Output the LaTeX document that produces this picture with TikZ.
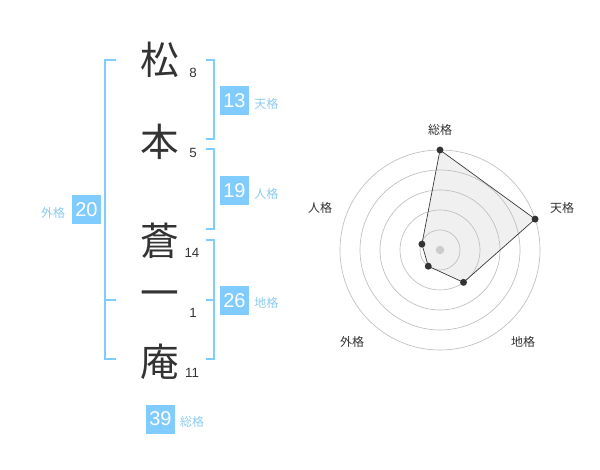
\documentclass[tikz,border=0pt]{standalone}
\usepackage{fontspec}
\setmainfont{Liberation Sans}
\newfontfamily\jpfont{Noto Sans CJK JP}
\definecolor{kakublue}{HTML}{80CCFF}
\definecolor{kakulabel}{HTML}{8CCBF2}
\definecolor{inkgray}{HTML}{333333}
\tikzset{
  kanji/.style={font=\jpfont\fontsize{29}{29}\selectfont, text=inkgray, inner sep=0pt},
  strokes/.style={font=\fontsize{10}{10}\selectfont, text=inkgray, inner sep=0pt},
  bracket/.style={draw=kakublue, line width=1.5pt},
  valbox/.style={fill=kakublue, text=white, font=\fontsize{15}{15}\selectfont,
    minimum size=21.75pt, inner sep=0pt},
  kakuname/.style={text=kakulabel, font=\jpfont\fontsize{9}{9}\selectfont, inner sep=0pt},
  ring/.style={draw=black!25, line width=0.5pt},
  axislabel/.style={text=inkgray, font=\jpfont\fontsize{9}{9}\selectfont, inner sep=0pt},
}
\begin{document}
\begin{tikzpicture}[x=0.75pt, y=-0.75pt]
  \useasboundingbox (0,0) rectangle (600,470);

  % Name characters
  \node[kanji] (k1) at (160,60) {松};
  \node[kanji] (k2) at (160,142) {本};
  \node[kanji] (k3) at (160,241) {蒼};
  \node[kanji] (k4) at (160,299) {一};
  \node[kanji] (k5) at (160,362) {庵};

  % Stroke counts
  \node[strokes] (s1) at (193,73) {8};
  \node[strokes] (s2) at (193,153) {5};
  \node[strokes] (s3) at (192,253) {14};
  \node[strokes] (s4) at (193,313) {1};
  \node[strokes] (s5) at (192,373) {11};

  % Brackets
  \draw[bracket] (116,60) -- (105,60) -- (105,359) -- (116,359);
  \draw[bracket] (105,300) -- (116,300);
  \draw[bracket] (206,60) -- (214,60) -- (214,139) -- (206,139);
  \draw[bracket] (206,149) -- (214,149) -- (214,229) -- (206,229);
  \draw[bracket] (206,240) -- (214,240) -- (214,359) -- (206,359);
  \draw[bracket] (206,300) -- (214,300);

  % Values
  \node[valbox] (ten) at (234.5,100.5) {13};
  \node[kakuname, anchor=west] (tenL) at (254,104) {天格};
  \node[valbox] (jin) at (234.5,190.5) {19};
  \node[kakuname, anchor=west] (jinL) at (254,194) {人格};
  \node[valbox] (chi) at (234.5,300.5) {26};
  \node[kakuname, anchor=west] (chiL) at (254,303) {地格};
  \node[valbox] (gai) at (86.5,210) {20};
  \node[kakuname] (gaiL) at (53,213) {外格};
  \node[valbox] (sou) at (160.5,419) {39};
  \node[kakuname] (souL) at (192,422) {総格};

  % Radar chart
  \begin{scope}[shift={(440,250)}, yscale=-1]
    \coordinate (pSou) at (90:100);
    \coordinate (pTen) at (18:100);
    \coordinate (pChi) at (-54:40);
    \coordinate (pGai) at (-126:20);
    \coordinate (pJin) at (162:19);
    \fill[black!6] (pSou) -- (pTen) -- (pChi) -- (pGai) -- (pJin) -- cycle;
    \foreach \r in {20,40,...,100}
      \draw[ring] (0,0) circle[radius=\r*0.75pt];
    \fill[black!20] (0,0) circle[radius=3.2pt];
    \draw[inkgray, line width=0.5pt]
      (pSou) -- (pTen) -- (pChi) -- (pGai) -- (pJin) -- cycle;
    \foreach \p in {pSou,pTen,pChi,pGai,pJin}
      \fill[inkgray] (\p) circle[radius=2.6pt];
  \end{scope}
  \node[axislabel] (aSou) at (440,130) {総格};
  \node[axislabel] (aTen) at (562,208) {天格};
  \node[axislabel] (aJin) at (320,208) {人格};
  \node[axislabel] (aGai) at (352,342) {外格};
  \node[axislabel] (aChi) at (523,342) {地格};
\end{tikzpicture}
\end{document}
